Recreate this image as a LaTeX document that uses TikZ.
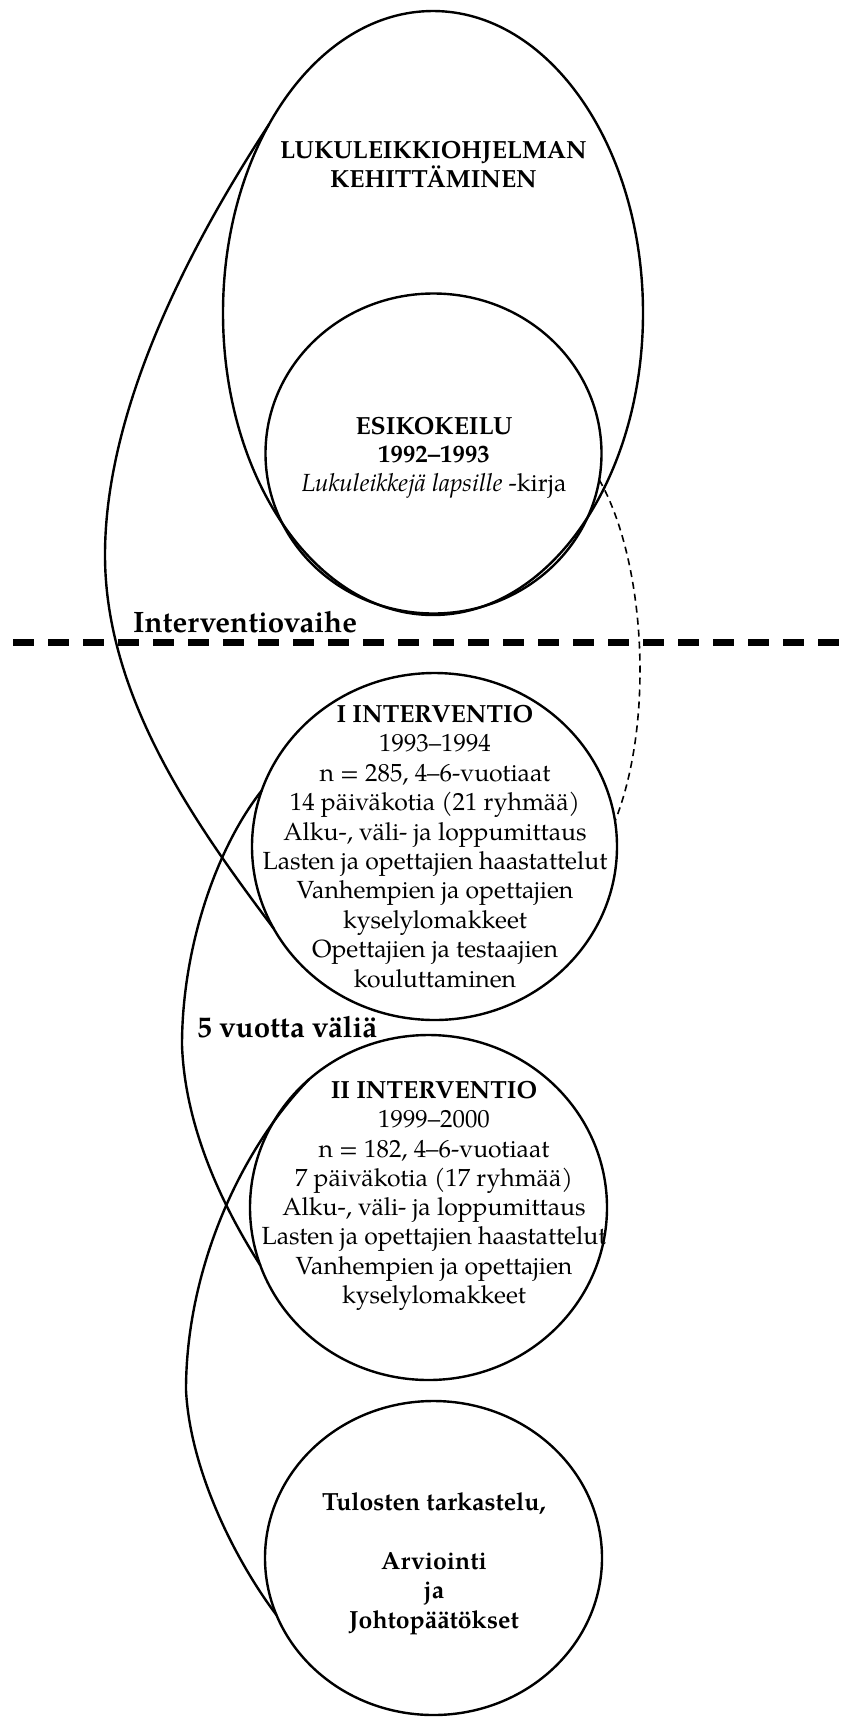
\documentclass[tikz,border=0pt]{standalone}
\usepackage{fontspec}
\setmainfont{texgyrepagella}[Extension=.otf, UprightFont=*-regular, BoldFont=*-bold, ItalicFont=*-italic, BoldItalicFont=*-bolditalic]
\usetikzlibrary{shapes.geometric}

\begin{document}
\begin{tikzpicture}[x=1pt,y=-1pt,
  ring/.style={draw, ellipse, line width=2.4pt, inner sep=0pt, outer sep=0pt},
  link/.style={line width=2.4pt},
  dotlink/.style={line width=1.6pt, dash pattern=on 7pt off 5pt},
  phase/.style={line width=7pt, dash pattern=on 21pt off 14pt},
  body/.style={font=\fontsize{24.8}{29.4}\selectfont, align=center, inner sep=0pt, anchor=north},
  tag/.style={font=\fontsize{29.5}{34}\selectfont\bfseries, inner sep=0pt, anchor=base west}
]
\useasboundingbox (0,0) rectangle (846,1717);
\fill[white] (0,0) rectangle (846,1717);

% circles
\node[ring, minimum width=420pt, minimum height=604pt] (dev) at (433,313) {};
\node[ring, minimum width=336pt, minimum height=320pt] (esi) at (433.5,453.5) {};
\node[ring, minimum width=365pt, minimum height=347pt] (i1) at (434.5,846.5) {};
\node[ring, minimum width=357pt, minimum height=345pt] (i2) at (428.5,1207.5) {};
\node[ring, minimum width=337pt, minimum height=314pt] (res) at (433.5,1558) {};

% texts
\node[body, font=\fontsize{24.8}{29}\selectfont\bfseries] (devtxt) at (433.5,141)
  {LUKULEIKKIOHJELMAN\\KEHITTÄMINEN};
\node[body, font=\fontsize{24.8}{28.5}\selectfont] (esitxt) at (434,417)
  {\textbf{ESIKOKEILU}\\\textbf{1992–1993}\\\textit{Lukuleikkejä lapsille} -kirja};
\node[body] (i1txt) at (435,705)
  {\textbf{I INTERVENTIO}\\1993–1994\\n = 285, 4–6-vuotiaat\\14 päiväkotia (21 ryhmää)\\
   Alku-, väli- ja loppumittaus\\Lasten ja opettajien haastattelut\\Vanhempien ja opettajien\\
   kyselylomakkeet\\Opettajien ja testaajien\\kouluttaminen};
\node[body, font=\fontsize{24.8}{29.3}\selectfont] (i2txt) at (434,1081)
  {\textbf{II INTERVENTIO}\\1999–2000\\n = 182, 4–6-vuotiaat\\7 päiväkotia (17 ryhmää)\\
   Alku-, väli- ja loppumittaus\\Lasten ja opettajien haastattelut\\Vanhempien ja opettajien\\
   kyselylomakkeet};
\node[body, font=\fontsize{24.8}{29.5}\selectfont\bfseries] (restxt) at (434,1492)
  {Tulosten tarkastelu,\\[29.5pt]Arviointi\\ja\\Johtopäätökset};

\node[tag] (phasetxt) at (133,632) {Interventiovaihe};
\node[tag] (gaptxt) at (197,1037) {5 vuotta väliä};

% phase divider
\coordinate (hl) at (13,642);
\coordinate (hr) at (846,642);
\draw[phase] (hl) -- (hr);

% connecting loops
\draw[link] (dev.131) .. controls (200,230) and (105,400) .. (105,555)
  .. controls (105,700) and (200,830) .. (i1.207);
\draw[link] (i1.162) .. controls (215,850) and (182,950) .. (182,1045)
  .. controls (185,1130) and (225,1210) .. (i2.199);
\draw[link] (i2.133) .. controls (240,1150) and (186,1270) .. (186,1390)
  .. controls (190,1470) and (235,1560) .. (res.200);
\draw[dotlink] (esi.-9) .. controls (645,560) and (655,720) .. (i1.8);
\end{tikzpicture}
\end{document}
